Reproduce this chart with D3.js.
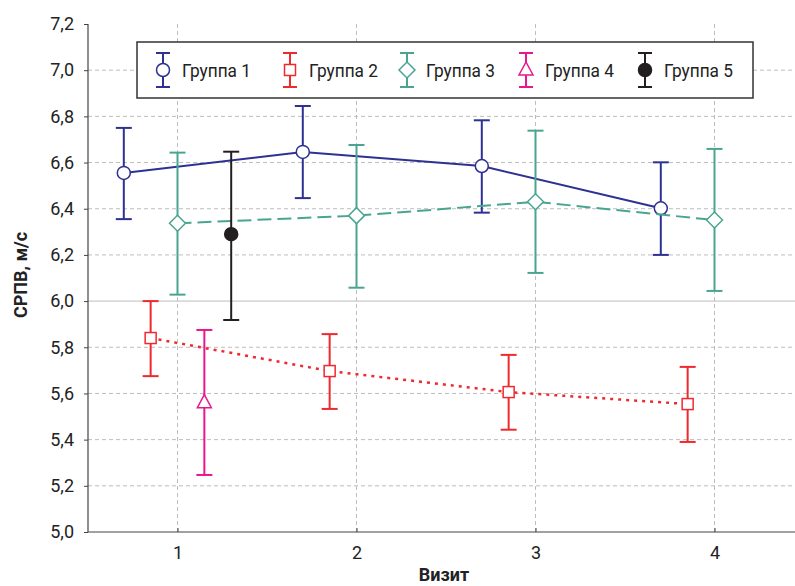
<!DOCTYPE html>
<html>
<head>
<meta charset="utf-8">
<script src="https://cdn.jsdelivr.net/npm/d3@7"></script>
<style>
  body { margin: 0; background: #fff; }
  svg { display: block; font-family: "Roboto", sans-serif; }
</style>
</head>
<body>
<div class="chart"></div>
<script>
// visits on the x axis
let visits = [1, 2, 3, 4];
let yTicks = [5.0, 5.2, 5.4, 5.6, 5.8, 6.0, 6.2, 6.4, 6.6, 6.8, 7.0, 7.2];

// group names
let groupNames = ["Группа 1", "Группа 2", "Группа 3", "Группа 4", "Группа 5"];

// means and error bar ends
let g1Mean = [6.555, 6.646, 6.585, 6.402];
let g1Low  = [6.355, 6.446, 6.383, 6.200];
let g1High = [6.750, 6.845, 6.783, 6.601];

let g2Mean = [5.840, 5.697, 5.606, 5.554];
let g2Low  = [5.675, 5.533, 5.443, 5.390];
let g2High = [6.000, 5.857, 5.767, 5.715];

let g3Mean = [6.337, 6.370, 6.430, 6.351];
let g3Low  = [6.028, 6.058, 6.122, 6.044];
let g3High = [6.643, 6.676, 6.738, 6.659];

let g4Mean = [5.560];
let g4Low  = [5.247];
let g4High = [5.875];

let g5Mean = [6.290];
let g5Low  = [5.918];
let g5High = [6.647];

let width = 795, height = 586;
let margin = {left: 88, top: 24, bottom: 54};

let groups = [
    {name: groupNames[0], mean: g1Mean, low: g1Low, high: g1High, color: "#2e3192", offset: -0.3, symbol: "circle", dash: null, lw: 2},
    {name: groupNames[1], mean: g2Mean, low: g2Low, high: g2High, color: "#ee2a2f", offset: -0.15, symbol: "square", dash: "3,5", lw: 2.5},
    {name: groupNames[2], mean: g3Mean, low: g3Low, high: g3High, color: "#4aa590", offset: 0, symbol: "diamond", dash: "14,6", lw: 2},
    {name: groupNames[3], mean: g4Mean, low: g4Low, high: g4High, color: "#e8168f", offset: 0.15, symbol: "triangle", dash: null, lw: 2},
    {name: groupNames[4], mean: g5Mean, low: g5Low, high: g5High, color: "#231f20", offset: 0.3, symbol: "filled", dash: null, lw: 2}
];

let svg = d3.select(".chart")
    .append("svg")
    .attr("width", width)
    .attr("height", height);

let xScale = d3.scaleLinear()
    .domain([0.5, 4.5])
    .range([margin.left, 804]);

let yScale = d3.scaleLinear()
    .domain([5.0, 7.2])
    .range([height - margin.bottom, margin.top]);

let bottom = height - margin.bottom;

// grid
svg.append("g")
    .selectAll("line")
    .data(yTicks.filter(d => d > 5.0 && d < 7.2))
    .enter()
    .append("line")
    .attr("x1", margin.left)
    .attr("x2", width)
    .attr("y1", d => yScale(d))
    .attr("y2", d => yScale(d))
    .attr("stroke", "#bdbdbd")
    .attr("stroke-width", 1)
    .attr("stroke-dasharray", d => Math.abs(d - 6.0) < 1e-9 ? null : "4,3");

svg.append("g")
    .selectAll("line")
    .data(visits)
    .enter()
    .append("line")
    .attr("x1", d => xScale(d))
    .attr("x2", d => xScale(d))
    .attr("y1", margin.top)
    .attr("y2", bottom)
    .attr("stroke", "#bdbdbd")
    .attr("stroke-width", 1)
    .attr("stroke-dasharray", "4,3");

// axes
let yAxis = d3.axisLeft(yScale)
    .tickValues(yTicks)
    .tickSize(4)
    .tickPadding(10)
    .tickFormat(d => d3.format(".1f")(d).replace(".", ","));

let xAxis = d3.axisBottom(xScale)
    .tickValues(visits)
    .tickSize(-4)
    .tickPadding(14)
    .tickFormat(d3.format("d"));

let gy = svg.append("g")
    .attr("transform", "translate(" + margin.left + ",0)")
    .call(yAxis);
gy.select(".domain").attr("d", "M0," + margin.top + "V" + bottom);

let gx = svg.append("g")
    .attr("transform", "translate(0," + bottom + ")")
    .call(xAxis);
gx.select(".domain").attr("d", "M" + margin.left + ",0H" + width);

svg.selectAll(".domain").attr("stroke", "#444").attr("stroke-width", 1.2);
svg.selectAll(".tick line").attr("stroke", "#444");
svg.selectAll(".tick text")
    .attr("font-family", "Roboto, sans-serif")
    .attr("font-size", 18)
    .attr("fill", "#222");

// axis titles
svg.append("text")
    .attr("transform", "translate(27,275) rotate(-90)")
    .attr("text-anchor", "middle")
    .attr("font-size", 18)
    .attr("font-weight", "bold")
    .attr("fill", "#222")
    .text("СРПВ, м/с");

svg.append("text")
    .attr("x", 444)
    .attr("y", 581)
    .attr("text-anchor", "middle")
    .attr("font-size", 18)
    .attr("font-weight", "bold")
    .attr("fill", "#222")
    .text("Визит");

// draws a marker at (cx, cy)
let drawMarker = (g, symbol, color, cx, cy) => {
    if (symbol == "circle" || symbol == "filled") {
        g.append("circle")
            .attr("cx", cx).attr("cy", cy).attr("r", 6.5)
            .attr("fill", symbol == "filled" ? color : "#fff")
            .attr("stroke", color).attr("stroke-width", 1.5);
    } else if (symbol == "square") {
        g.append("rect")
            .attr("x", cx - 5.5).attr("y", cy - 5.5)
            .attr("width", 11).attr("height", 11)
            .attr("fill", "#fff")
            .attr("stroke", color).attr("stroke-width", 1.5);
    } else if (symbol == "diamond") {
        g.append("path")
            .attr("d", "M" + cx + "," + (cy - 8) + "L" + (cx + 8) + "," + cy + "L" + cx + "," + (cy + 8) + "L" + (cx - 8) + "," + cy + "Z")
            .attr("fill", "#fff")
            .attr("stroke", color).attr("stroke-width", 1.5);
    } else if (symbol == "triangle") {
        g.append("path")
            .attr("d", "M" + cx + "," + (cy - 8) + "L" + (cx + 7) + "," + (cy + 5) + "L" + (cx - 7) + "," + (cy + 5) + "Z")
            .attr("fill", "#fff")
            .attr("stroke", color).attr("stroke-width", 1.5);
    }
};

let line = d3.line()
    .x(d => d.x)
    .y(d => d.y);

groups.forEach(grp => {
    let pts = grp.mean.map((m, i) => ({
        x: xScale(visits[i] + grp.offset),
        y: yScale(m),
        lo: yScale(grp.low[i]),
        hi: yScale(grp.high[i])
    }));

    let g = svg.append("g");

    // error bars
    pts.forEach(p => {
        g.append("line")
            .attr("x1", p.x).attr("x2", p.x)
            .attr("y1", p.lo).attr("y2", p.hi)
            .attr("stroke", grp.color).attr("stroke-width", 2);
        [p.lo, p.hi].forEach(yy => {
            g.append("line")
                .attr("x1", p.x - 8).attr("x2", p.x + 8)
                .attr("y1", yy).attr("y2", yy)
                .attr("stroke", grp.color).attr("stroke-width", 2);
        });
    });

    // connecting line
    if (pts.length > 1) {
        g.append("path")
            .datum(pts)
            .attr("d", line)
            .attr("fill", "none")
            .attr("stroke", grp.color)
            .attr("stroke-width", grp.lw)
            .attr("stroke-dasharray", grp.dash);
    }

    pts.forEach(p => drawMarker(g, grp.symbol, grp.color, p.x, p.y));
});

// legend
let legend = svg.append("g");
legend.append("rect")
    .attr("x", 137).attr("y", 42)
    .attr("width", 616).attr("height", 56)
    .attr("fill", "#fff")
    .attr("stroke", "#333")
    .attr("stroke-width", 1.5);

let legendX = [163, 290, 407, 526, 645];
groups.forEach((grp, i) => {
    let cx = legendX[i], cy = 70;
    legend.append("line")
        .attr("x1", cx).attr("x2", cx)
        .attr("y1", 53).attr("y2", 87)
        .attr("stroke", grp.color).attr("stroke-width", 2);
    [53, 87].forEach(yy => {
        legend.append("line")
            .attr("x1", cx - 7).attr("x2", cx + 7)
            .attr("y1", yy).attr("y2", yy)
            .attr("stroke", grp.color).attr("stroke-width", 2);
    });
    drawMarker(legend, grp.symbol, grp.color, cx, cy);
    legend.append("text")
        .attr("x", cx + 19)
        .attr("y", cy + 7)
        .attr("font-size", 18)
        .attr("textLength", 69)
        .attr("lengthAdjust", "spacingAndGlyphs")
        .attr("fill", "#222")
        .text(grp.name);
});
</script>
</body>
</html>
